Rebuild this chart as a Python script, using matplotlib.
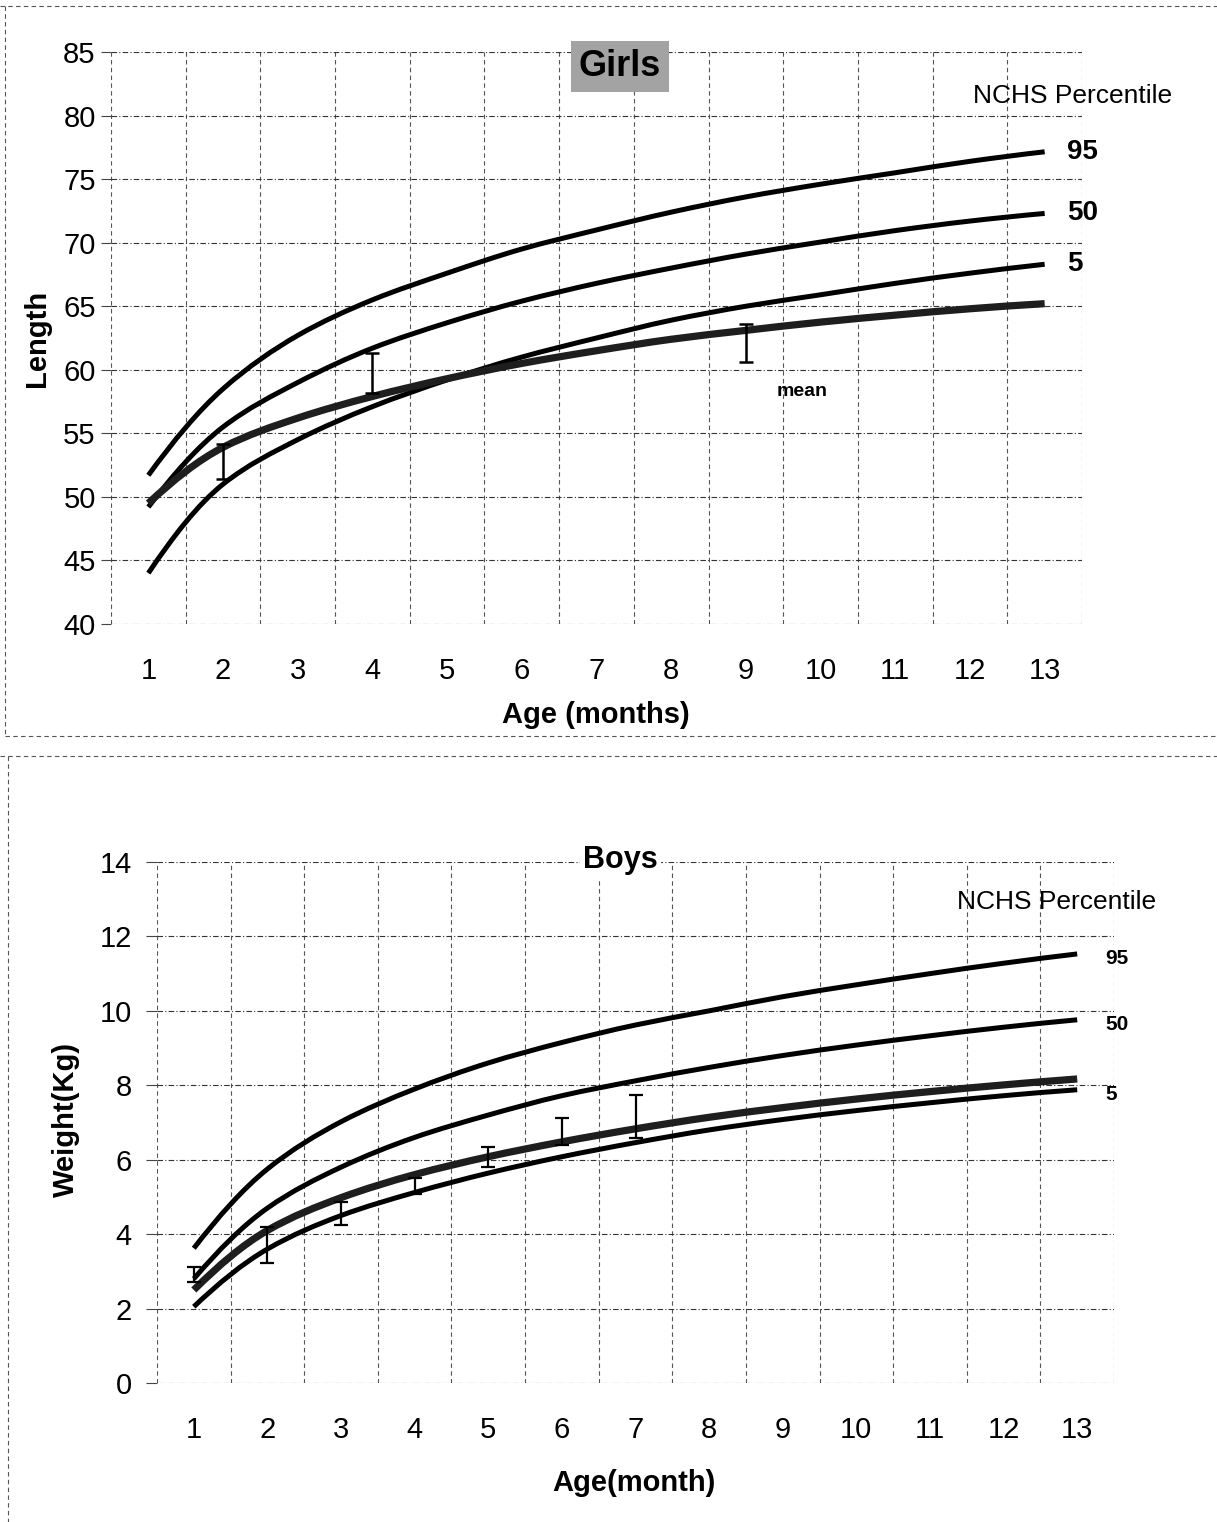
import numpy as np
import matplotlib
matplotlib.use('Agg')
import matplotlib.pyplot as plt
from matplotlib.path import Path
from matplotlib.patches import PathPatch
from matplotlib.lines import Line2D

plt.rcParams['font.family'] = ['Liberation Sans', 'DejaVu Sans']

months = list(range(1, 14))
month_labels = [str(m) for m in months]

# Girls: length (cm), NCHS percentiles and study mean
girls_p95 = [51.7, 58.5, 62.7, 65.5, 67.6, 69.5, 71.0, 72.4, 73.6, 74.6, 75.5, 76.4, 77.15]
girls_p50 = [49.2, 55.5, 59.0, 61.7, 63.7, 65.4, 66.8, 68.0, 69.1, 70.05, 70.95, 71.7, 72.3]
girls_p5 = [44.0, 51.0, 54.5, 57.1, 59.2, 61.0, 62.5, 63.9, 65.0, 65.9, 66.8, 67.6, 68.3]
girls_mean = [49.5, 53.9, 56.2, 57.9, 59.3, 60.5, 61.5, 62.4, 63.1, 63.75, 64.3, 64.8, 65.2]
girls_err_months = [2, 4, 9]
girls_err_low = [51.4, 58.2, 60.6]
girls_err_high = [54.2, 61.35, 63.6]
girls_yticks = [40, 45, 50, 55, 60, 65, 70, 75, 80, 85]

# Boys: weight (kg)
boys_p95 = [3.62, 5.75, 7.02, 7.9, 8.6, 9.15, 9.62, 10.0, 10.38, 10.7, 11.0, 11.28, 11.53]
boys_p50 = [2.8, 4.7, 5.8, 6.6, 7.2, 7.72, 8.12, 8.48, 8.8, 9.08, 9.33, 9.56, 9.76]
boys_mean = [2.5, 4.1, 4.98, 5.6, 6.08, 6.48, 6.83, 7.14, 7.4, 7.63, 7.83, 8.01, 8.17]
boys_p5 = [2.05, 3.6, 4.5, 5.12, 5.64, 6.08, 6.46, 6.8, 7.08, 7.32, 7.53, 7.72, 7.88]
boys_err_months = [1, 2, 3, 4, 5, 6, 7]
boys_err_low = [2.71, 3.23, 4.25, 5.08, 5.8, 6.4, 6.58]
boys_err_high = [3.12, 4.2, 4.87, 5.5, 6.34, 7.12, 7.74]
boys_yticks = [0, 2, 4, 6, 8, 10, 12, 14]

percentile_names = ['95', '50', '5']


def pchip_slopes(x, y):
    h = np.diff(x)
    d = np.diff(y) / h
    m = np.zeros_like(y)
    for i in range(1, len(y) - 1):
        if d[i - 1] * d[i] > 0:
            w1 = 2 * h[i] + h[i - 1]
            w2 = h[i] + 2 * h[i - 1]
            m[i] = (w1 + w2) / (w1 / d[i - 1] + w2 / d[i])

    def end(h0, h1, d0, d1):
        s = ((2 * h0 + h1) * d0 - h0 * d1) / (h0 + h1)
        if np.sign(s) != np.sign(d0):
            return 0.0
        if np.sign(d0) != np.sign(d1) and abs(s) > abs(3 * d0):
            return 3 * d0
        return s

    m[0] = end(h[0], h[1], d[0], d[1])
    m[-1] = end(h[-1], h[-2], d[-1], d[-2])
    return m


def smooth_line(ax, xs, ys, lw, color='black', zorder=3):
    # smoothed line like Excel: cubic bezier segments through every data point
    x = np.asarray(xs, float)
    y = np.asarray(ys, float)
    m = pchip_slopes(x, y)
    verts = [(x[0], y[0])]
    codes = [Path.MOVETO]
    for i in range(len(x) - 1):
        h = x[i + 1] - x[i]
        verts += [(x[i] + h / 3, y[i] + m[i] * h / 3),
                  (x[i + 1] - h / 3, y[i + 1] - m[i + 1] * h / 3),
                  (x[i + 1], y[i + 1])]
        codes += [Path.CURVE4] * 3
    ax.add_patch(PathPatch(Path(verts, codes), fill=False, lw=lw, edgecolor=color,
                           capstyle='butt', zorder=zorder))


def style_axes(ax, yticks, ylim, tick_len, ypad, xpad):
    ax.set_xlim(0.5, 13.5)
    ax.set_ylim(*ylim)
    ax.set_xticks(months)
    ax.set_xticklabels(month_labels)
    ax.set_xticks(np.arange(0.5, 14, 1), minor=True)
    ax.set_yticks(yticks)
    for s in ax.spines.values():
        s.set_visible(False)
    ax.tick_params(axis='x', which='both', length=0, labelsize=21, pad=xpad)
    ax.tick_params(axis='y', length=tick_len, width=0.8, color='#444', labelsize=21, pad=ypad)
    ax.grid(True, axis='y', which='major', ls=(0, (5, 2, 1, 2)), lw=0.8, color='#333')
    ax.grid(True, axis='x', which='minor', ls=(0, (4, 3)), lw=0.8, color='#555')
    ax.set_axisbelow(True)


W, H = 1217, 1522
fig = plt.figure(figsize=(W / 100, H / 100), dpi=100)

# ---- Girls (length) ----
ax1 = fig.add_axes([111 / W, 1 - 624 / H, 971 / W, 572 / H])
style_axes(ax1, girls_yticks, (40, 85), 7, 4, 24)
for vals in (girls_p95, girls_p50, girls_p5):
    smooth_line(ax1, months, vals, 3.6)
smooth_line(ax1, months, girls_mean, 5.2, color='#1e1e1e')
g_mid = [(lo + hi) / 2 for lo, hi in zip(girls_err_low, girls_err_high)]
g_err = [(hi - lo) / 2 for lo, hi in zip(girls_err_low, girls_err_high)]
ax1.errorbar(girls_err_months, g_mid, yerr=g_err, fmt='none', ecolor='black',
             elinewidth=1.8, capsize=5, capthick=1.8, zorder=4)
for name, vals in zip(percentile_names, (girls_p95, girls_p50, girls_p5)):
    ax1.text(13.3, vals[-1], name, ha='left', va='center', fontsize=20, fontweight='bold')
ax1.text(9.75, 58.3, 'mean', ha='center', va='center', fontsize=14, fontweight='bold')
ax1.text(0.524, 0.974, 'Girls', transform=ax1.transAxes, ha='center', va='center',
         fontsize=26, fontweight='bold',
         bbox=dict(boxstyle='square,pad=0.22', fc='#a3a3a3', ec='none'))
ax1.text(0.99, 0.923, 'NCHS Percentile', transform=ax1.transAxes, ha='center',
         va='center', fontsize=19)
ax1.set_ylabel('Length', fontsize=21, fontweight='bold')
ax1.yaxis.set_label_coords(-0.062, 0.5)
ax1.set_xlabel('Age (months)', fontsize=21, fontweight='bold')
ax1.xaxis.set_label_coords(0.4995, -0.134)

# ---- Boys (weight) ----
ax2 = fig.add_axes([157 / W, 1 - 1383 / H, 957 / W, 521 / H])
style_axes(ax2, boys_yticks, (0, 14), 8, 10, 24)
for vals in (boys_p95, boys_p50, boys_p5):
    smooth_line(ax2, months, vals, 3.6)
smooth_line(ax2, months, boys_mean, 5.2, color='#1e1e1e')
b_mid = [(lo + hi) / 2 for lo, hi in zip(boys_err_low, boys_err_high)]
b_err = [(hi - lo) / 2 for lo, hi in zip(boys_err_low, boys_err_high)]
ax2.errorbar(boys_err_months, b_mid, yerr=b_err, fmt='none', ecolor='black',
             elinewidth=1.6, capsize=5, capthick=1.6, zorder=4)
for name, vals in zip(percentile_names, (boys_p95, boys_p50, boys_p5)):
    ax2.text(13.38, vals[-1] - 0.12, name, ha='left', va='center', fontsize=15,
             fontweight='bold')
ax2.text(0.484, 1.004, 'Boys', transform=ax2.transAxes, ha='center', va='center',
         fontsize=22, fontweight='bold',
         bbox=dict(boxstyle='square,pad=0.1', fc='white', ec='none'))
ax2.text(0.94, 0.923, 'NCHS Percentile', transform=ax2.transAxes, ha='center',
         va='center', fontsize=19)
ax2.set_ylabel('Weight(Kg)', fontsize=21, fontweight='bold')
ax2.yaxis.set_label_coords(-0.08, 0.505)
ax2.set_xlabel('Age(month)', fontsize=21, fontweight='bold')
ax2.xaxis.set_label_coords(0.498, -0.165)

# dashed frames around the two pasted charts
frame = dict(transform=fig.transFigure, ls=(0, (4, 3)), lw=0.8, color='#555')
for (x0, y0, x1, y1) in [(0, 6, W, 6), (5, 6, 5, 736), (5, 736, W, 736),
                         (0, 756, W, 756), (8, 756, 8, H)]:
    fig.add_artist(Line2D([x0 / W, x1 / W], [1 - y0 / H, 1 - y1 / H], **frame))

fig.savefig('out.png', dpi=100)
